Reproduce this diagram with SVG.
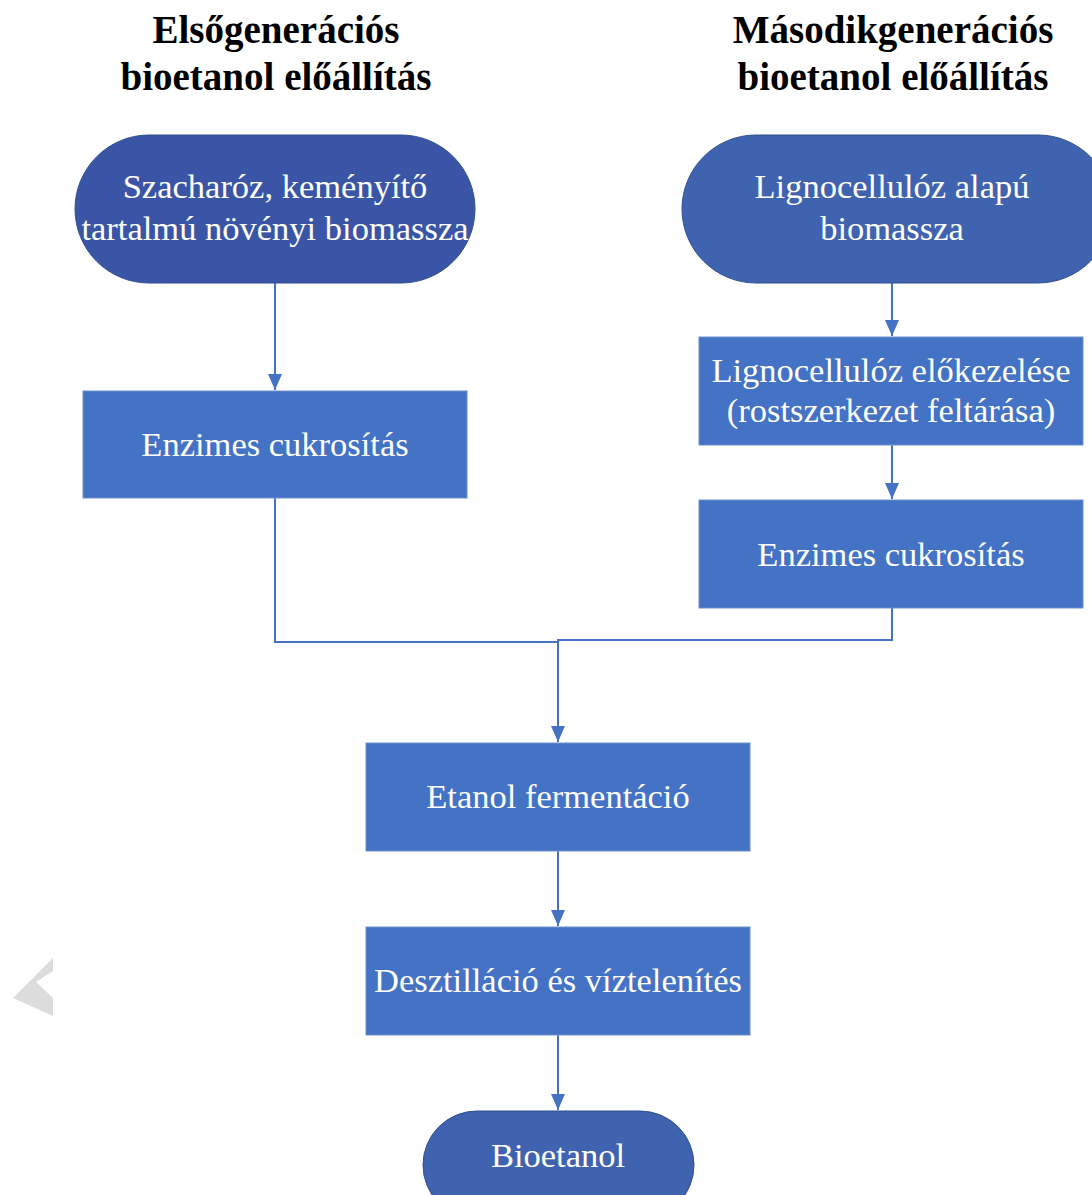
<svg xmlns="http://www.w3.org/2000/svg" width="1092" height="1195" viewBox="0 0 1092 1195">
<style>
.title{font-family:"Liberation Serif","Times New Roman",serif;font-weight:bold;font-size:39px;fill:#000;text-anchor:middle}
.lbl{font-family:"Liberation Serif","Times New Roman",serif;font-size:34.5px;fill:#fff;text-anchor:middle}
.proc{fill:#4472C4;stroke:#6F90D0;stroke-width:1}
.term{fill:#3F63AE;stroke:#2F4F8F;stroke-width:1}
.conn{fill:none;stroke:#4472C4;stroke-width:2}
</style>
<defs>
<marker id="ah" viewBox="0 0 16 14" refX="16" refY="7" markerWidth="16" markerHeight="14" markerUnits="userSpaceOnUse" orient="auto">
<path d="M0,0 L16,7 L0,14 Z" fill="#4472C4"/>
</marker>
</defs>
<rect width="1092" height="1195" fill="#fff"/>
<polygon points="13,998 53,958 53,971 36,982 53,998 53,1016" fill="#dcdcdc"/>
<g id="title-left">
<text class="title" x="276" y="43">Elsőgenerációs</text>
<text class="title" x="276" y="90">bioetanol előállítás</text>
</g>
<g id="title-right">
<text class="title" x="893" y="43">Másodikgenerációs</text>
<text class="title" x="893" y="90">bioetanol előállítás</text>
</g>
<g id="connectors">
<path class="conn" d="M275,283 V390" marker-end="url(#ah)"/>
<path class="conn" d="M892,283 V336" marker-end="url(#ah)"/>
<path class="conn" d="M892,445 V499" marker-end="url(#ah)"/>
<path class="conn" d="M275,498 V642 H558"/>
<path class="conn" d="M892,608 V640 H558 V742" marker-end="url(#ah)"/>
<path class="conn" d="M558,851 V926" marker-end="url(#ah)"/>
<path class="conn" d="M558,1035 V1110" marker-end="url(#ah)"/>
</g>
<g id="n-szacharoz">
<rect class="term" x="75" y="135" width="400" height="148" rx="74" style="fill:#3A55A5"/>
<text class="lbl" x="275" y="198">Szacharóz, keményítő</text>
<text class="lbl" x="275" y="240">tartalmú növényi biomassza</text>
</g>
<g id="n-lignocellulose">
<rect class="term" x="682" y="135" width="430" height="148" rx="74"/>
<text class="lbl" x="892" y="198">Lignocellulóz alapú</text>
<text class="lbl" x="892" y="240">biomassza</text>
</g>
<g id="n-enzim1">
<rect class="proc" x="83" y="391" width="384" height="107"/>
<text class="lbl" x="275" y="456">Enzimes cukrosítás</text>
</g>
<g id="n-elokezeles">
<rect class="proc" x="699" y="337" width="384" height="108"/>
<text class="lbl" x="891" y="382">Lignocellulóz előkezelése</text>
<text class="lbl" x="891" y="422">(rostszerkezet feltárása)</text>
</g>
<g id="n-enzim2">
<rect class="proc" x="699" y="500" width="384" height="108"/>
<text class="lbl" x="891" y="566">Enzimes cukrosítás</text>
</g>
<g id="n-fermentacio">
<rect class="proc" x="366" y="743" width="384" height="108"/>
<text class="lbl" x="558" y="808">Etanol fermentáció</text>
</g>
<g id="n-desztillacio">
<rect class="proc" x="366" y="927" width="384" height="108"/>
<text class="lbl" x="558" y="992">Desztilláció és víztelenítés</text>
</g>
<g id="n-bioetanol">
<rect class="term" x="423" y="1111" width="271" height="108" rx="54"/>
<text class="lbl" x="558" y="1167">Bioetanol</text>
</g>
</svg>
